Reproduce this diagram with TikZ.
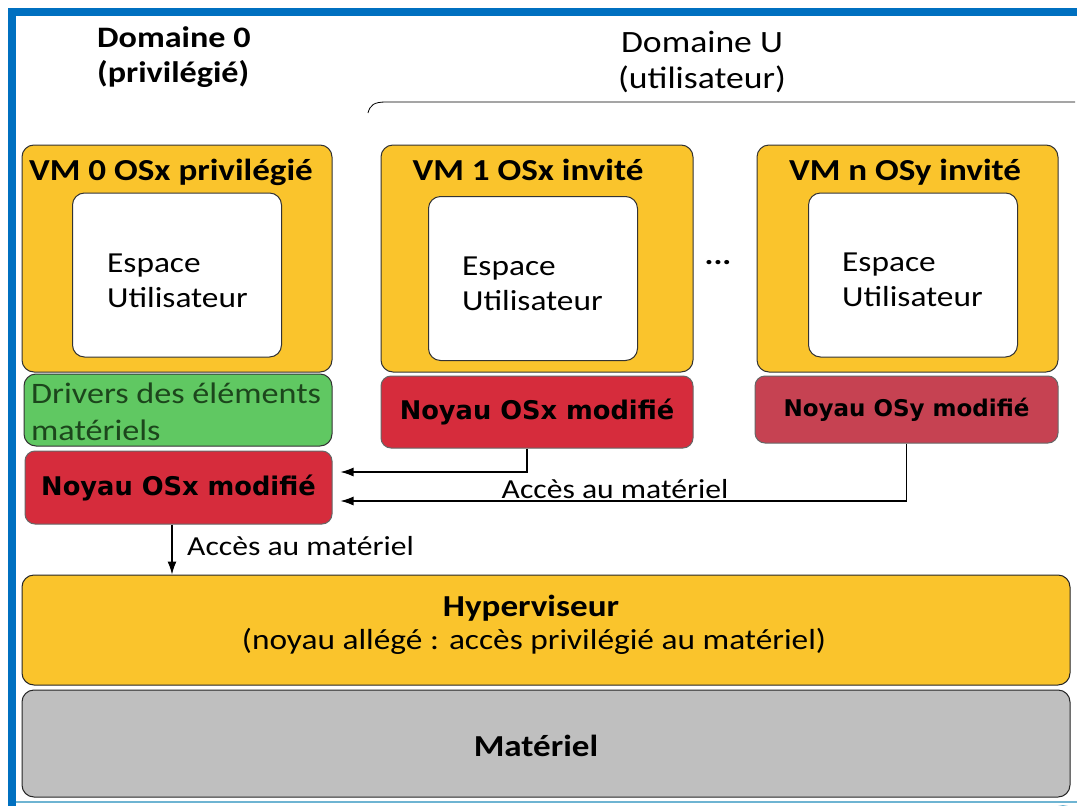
\documentclass[tikz,border=0pt]{standalone}
\usepackage{fontspec}
\usetikzlibrary{arrows.meta}
\setmainfont{Carlito}[FakeStretch=1.15]
\newfontfamily\verdfont{DejaVu Sans}
\definecolor{vmyellow}{RGB}{250,196,44}
\definecolor{kernred}{RGB}{214,44,60}
\definecolor{kernredb}{RGB}{198,66,82}
\definecolor{drvgreen}{RGB}{96,200,98}
\definecolor{drvtext}{RGB}{28,70,28}
\definecolor{hwgray}{RGB}{191,191,191}
\definecolor{frameblue}{RGB}{0,112,192}
\definecolor{frameltblue}{RGB}{110,180,210}
\tikzset{
  vmbox/.style={draw=black!80, line width=1pt, fill=vmyellow, rounded corners=12pt, inner sep=0pt, minimum height=227pt},
  userbox/.style={draw=black!80, line width=1pt, fill=white, rounded corners=12pt, inner sep=0pt, minimum width=209pt, minimum height=164pt},
  vmtitle/.style={font=\bfseries\fontsize{30.5}{36}\selectfont, inner sep=0pt},
  usertxt/.style={font=\fontsize{29}{35}\selectfont, align=left, inner sep=0pt, anchor=west},
  kernbox/.style={draw=black!60, line width=1pt, fill=kernred, rounded corners=10pt, inner sep=0pt, font=\verdfont\bfseries\fontsize{25.7}{30}\selectfont},
  layerbox/.style={draw=black!85, line width=1pt, rounded corners=12pt, inner sep=0pt, minimum width=1048pt},
  acclabel/.style={font=\fontsize{27.5}{33}\selectfont, inner sep=0pt},
  accarrow/.style={-{Latex[length=13pt,width=9pt]}, line width=1.2pt}
}
\begin{document}
\begin{tikzpicture}[x=1pt,y=-1pt]
\useasboundingbox (0,0) rectangle (1077,806);
\fill[white] (0,0) rectangle (1077,806);
\fill[frameblue] (8,8) rectangle (1077,16);
\fill[frameblue] (8,8) rectangle (16,806);
\draw[frameltblue, line width=1.5pt] (16,802) -- (1077,802);
\fill[frameltblue] (1063,818) circle (13);

\node[font=\bfseries\fontsize{29.7}{35}\selectfont, align=left, anchor=north west, inner sep=0pt] (dom0) at (97,26) {Domaine 0\\(privilégié)};
\node[font=\fontsize{31}{36}\selectfont, align=center, anchor=north, inner sep=0pt] (domU) at (702,31) {Domaine U\\(utilisateur)};
\draw[line width=0.8pt] (368,113) .. controls (370,105) and (374,102) .. (386,102) -- (1075,102);

\node[vmbox, minimum width=310pt] (vm0) at (177,258.5) {};
\node[vmbox, minimum width=312pt] (vm1) at (537,258.5) {};
\node[vmbox, minimum width=301pt] (vmn) at (907.5,258.5) {};
\node[vmtitle] (t0) at (171,172) {VM 0 OSx privilégié};
\node[vmtitle] (t1) at (528,170) {VM 1 OSx invité};
\node[vmtitle] (tn) at (905,172) {VM n OSy invité};
\node[userbox] (u0) at (177,275) {};
\node[userbox] (u1) at (533,278.5) {};
\node[userbox] (un) at (913,275) {};
\node[usertxt] (ut0) at (107,281) {Espace\\Utilisateur};
\node[usertxt] (ut1) at (462,284) {Espace\\Utilisateur};
\node[usertxt] (utn) at (842,280) {Espace\\Utilisateur};
\node[font=\bfseries\fontsize{29}{35}\selectfont, inner sep=0pt] (dots) at (718,263) {...};

\node[draw=black!80, line width=1pt, fill=drvgreen, rounded corners=12pt, inner sep=0pt, minimum width=308pt, minimum height=72pt] (drv) at (178,410) {};
\node[font=\fontsize{29.7}{37}\selectfont, text=drvtext, align=left, anchor=west, inner sep=0pt] (drvt) at (31,412) {Drivers des éléments\\matériels};
\node[kernbox, minimum width=307pt, minimum height=73pt] (k0) at (178.5,487.5) {Noyau OSx modifié};
\node[kernbox, minimum width=312pt, minimum height=72pt] (k1) at (537,412) {Noyau OSx modifié};
\node[kernbox, fill=kernredb, minimum width=303pt, minimum height=67pt, font=\verdfont\bfseries\fontsize{23}{27}\selectfont] (kn) at (906.5,409.5) {Noyau OSy modifié};

\node[layerbox, fill=vmyellow, minimum height=110pt] (hyp) at (546,630) {};
\node[font=\bfseries\fontsize{30.5}{36}\selectfont, inner sep=0pt] (hypt) at (531,608) {Hyperviseur};
\node[font=\fontsize{29}{35}\selectfont, inner sep=0pt] (hyps) at (534,641) {(noyau allégé : accès privilégié au matériel)};
\node[layerbox, fill=hwgray, minimum height=107pt] (hw) at (546,743.5) {};
\node[font=\bfseries\fontsize{30.5}{36}\selectfont, inner sep=0pt] (hwt) at (536,746) {Matériel};

\draw[accarrow, shorten >=8pt] ([xshift=-10pt]k1.south) |- ([yshift=15.5pt]k0.east);
\draw[accarrow, shorten >=8pt] (kn.south) |- ([yshift=-13.5pt]k0.east);
\node[acclabel] (acc1) at (615,489) {Accès au matériel};
\draw[accarrow] ([xshift=-6.5pt]k0.south) -- ([xshift=-6.5pt]k0.south |- hyp.north);
\node[acclabel, anchor=west] (acc0) at (187,546) {Accès au matériel};
\end{tikzpicture}
\end{document}
